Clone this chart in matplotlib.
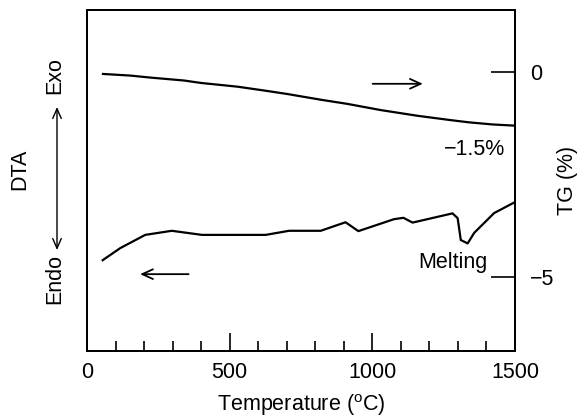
import matplotlib
matplotlib.use("Agg")
import matplotlib.pyplot as plt
from matplotlib.ticker import MultipleLocator, FixedLocator

plt.rcParams['font.family'] = ['Liberation Sans', 'DejaVu Sans']

# TG curve (weight change, %)
tg_temp = [56, 152, 224, 340, 400, 527, 627, 703, 821, 913, 1029, 1159, 1280, 1340, 1420, 1500]
tg_val = [-0.05, -0.09, -0.14, -0.21, -0.27, -0.36, -0.46, -0.54, -0.68, -0.78, -0.93, -1.07, -1.18, -1.23, -1.28, -1.31]

# DTA curve (arbitrary units)
dta_temp = [55, 116, 204, 297, 403, 626, 708, 819, 906, 951, 1076, 1109, 1141, 1281, 1299, 1310, 1334, 1357, 1427, 1500]
dta_val = [26.6, 30.1, 34.0, 35.2, 34.0, 34.0, 35.2, 35.2, 37.7, 35.1, 38.6, 39.0, 37.6, 40.3, 38.9, 32.5, 31.5, 34.6, 40.4, 43.6]

x_ticks = [0, 500, 1000, 1500]
tg_ticks = [0, -5]

FS = 15.5
LW = 1.6

fig = plt.figure(figsize=(5.79, 4.17), dpi=100)
ax = fig.add_axes([87/579, 1 - 351/417, (515-87)/579, (351-9.5)/417])
ax2 = ax.twinx()

ax.plot(dta_temp, dta_val, color='black', lw=LW)
ax2.plot(tg_temp, tg_val, color='black', lw=LW)

ax.set_xlim(0, 1500)
ax.set_ylim(0, 100)
ax2.set_ylim(-6.80, 1.52)

for a in (ax, ax2):
    for s in a.spines.values():
        s.set_linewidth(1.4)

ax.xaxis.set_major_locator(FixedLocator(x_ticks))
ax.xaxis.set_minor_locator(MultipleLocator(100))
ax.tick_params(axis='x', which='major', direction='in', length=13, width=1.2,
               labelsize=FS, pad=8, top=False)
ax.tick_params(axis='x', which='minor', direction='in', length=7, width=1.2, top=False)
ax.tick_params(axis='y', left=False, labelleft=False, right=False, labelright=False)

ax2.set_yticks(tg_ticks)
ax2.tick_params(axis='y', direction='in', length=17, width=1.2, labelsize=FS, pad=11)
ax2.tick_params(axis='y', which='minor', right=False)

ax.set_xlabel('Temperature ($\\mathregular{^{o}}$C)', fontsize=FS)
ax.xaxis.set_label_coords(0.5, (351 - 405) / 341.5)
ax.xaxis.label.set_va('center')

ax.set_ylabel('DTA', fontsize=FS)
ax.yaxis.set_label_coords((20 - 87) / 428, (351 - 169) / 341.5)
ax.yaxis.label.set_va('center')
ax.yaxis.label.set_ha('center')

ax2.set_ylabel('TG (%)', fontsize=FS, rotation=90)
ax2.yaxis.set_label_coords((567 - 87) / 428, 0.5)
ax2.yaxis.label.set_va('center')
ax2.yaxis.label.set_ha('center')

# Exo / Endo indicator
ax.text((55 - 87) / 428, (351 - 76) / 341.5, 'Exo', rotation=90, fontsize=FS,
        ha='center', va='center', transform=ax.transAxes, clip_on=False)
ax.text((55 - 87) / 428, (351 - 279) / 341.5, 'Endo', rotation=90, fontsize=FS,
        ha='center', va='center', transform=ax.transAxes, clip_on=False)
ax.annotate('', xy=((57 - 87) / 428, (351 - 107) / 341.5), xycoords='axes fraction',
            xytext=((57 - 87) / 428, (351 - 250) / 341.5), textcoords='axes fraction',
            arrowprops=dict(arrowstyle='<->,head_length=0.5,head_width=0.22',
                            color='black', lw=1.0, mutation_scale=14, shrinkA=0, shrinkB=0),
            annotation_clip=False)

# curve direction arrows
ax2.annotate('', xy=(1177, -0.29), xytext=(1001, -0.29),
             arrowprops=dict(arrowstyle='->,head_length=0.55,head_width=0.25',
                             color='black', lw=1.3, mutation_scale=14, shrinkA=0, shrinkB=0))
ax.annotate('', xy=(186, 22.5), xytext=(356, 22.5),
            arrowprops=dict(arrowstyle='->,head_length=0.55,head_width=0.25',
                            color='black', lw=1.3, mutation_scale=14, shrinkA=0, shrinkB=0))

ax2.text(1465, -1.88, '\u22121.5%', fontsize=FS, ha='right', va='center')
ax.text(1283, 25.8, 'Melting', fontsize=FS, ha='center', va='center')

fig.savefig('out.png', dpi=100)
